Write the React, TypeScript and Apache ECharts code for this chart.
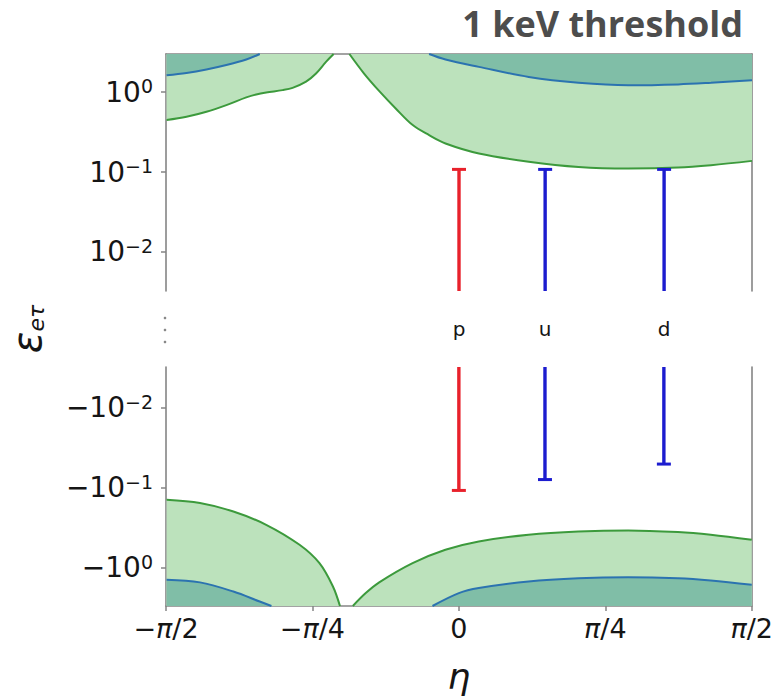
import React, { useEffect, useRef } from 'react';
import * as echarts from 'echarts';

// x values are η/π
const xTickValues = [-0.5, -0.25, 0, 0.25, 0.5];
const xTickLabels = ['{n|−}{i|π}{n|/2}', '{n|−}{i|π}{n|/4}', '{n|0}', '{i|π}{n|/4}', '{i|π}{n|/2}'];

const yTickExponents = [-2, -1, 0];

// Upper panel (ε > 0)
const upGreenLeftEta = [-0.499, -0.465, -0.431, -0.397, -0.363, -0.346, -0.329, -0.301, -0.284, -0.261, -0.244, -0.227, -0.214];
const upGreenLeftVal = [0.447, 0.491, 0.567, 0.688, 0.859, 0.936, 0.99, 1.06, 1.13, 1.35, 1.71, 2.39, 3.0];
const upGreenRightEta = [-0.187, -0.162, -0.136, -0.108, -0.079, -0.051, -0.023, 0.034, 0.119, 0.204, 0.289, 0.374, 0.43, 0.5];
const upGreenRightVal = [3.0, 1.71, 1.03, 0.625, 0.387, 0.29, 0.228, 0.171, 0.135, 0.116, 0.111, 0.114, 0.122, 0.138];
const upBlueLeftEta = [-0.499, -0.465, -0.431, -0.397, -0.363, -0.34];
const upBlueLeftVal = [1.63, 1.74, 1.92, 2.18, 2.56, 3.0];
const upBlueRightEta = [-0.051, -0.023, 0.034, 0.119, 0.204, 0.289, 0.374, 0.43, 0.5];
const upBlueRightVal = [3.0, 2.56, 2.07, 1.55, 1.31, 1.22, 1.25, 1.31, 1.41];

// Lower panel (ε < 0), magnitudes
const loGreenLeftEta = [-0.499, -0.442, -0.385, -0.329, -0.272, -0.238, -0.215, -0.203];
const loGreenLeftVal = [0.141, 0.155, 0.198, 0.29, 0.516, 0.875, 1.71, 3.0];
const loGreenRightEta = [-0.181, -0.159, -0.136, -0.079, -0.023, 0.034, 0.119, 0.204, 0.289, 0.374, 0.43, 0.5];
const loGreenRightVal = [3.0, 2.07, 1.52, 0.875, 0.596, 0.469, 0.387, 0.352, 0.341, 0.358, 0.387, 0.447];
const loBlueLeftEta = [-0.499, -0.442, -0.385, -0.34, -0.32];
const loBlueLeftVal = [1.41, 1.52, 1.98, 2.64, 3.0];
const loBlueRightEta = [-0.045, 0, 0.034, 0.119, 0.204, 0.289, 0.374, 0.43, 0.5];
const loBlueRightVal = [3.0, 2.07, 1.79, 1.48, 1.35, 1.31, 1.35, 1.44, 1.63];

// Error bars
const barNames = ['p', 'u', 'd'];
const barEta = [0, 0.147, 0.35];
const barUpperCap = [0.108, 0.108, 0.108];
const barLowerCap = [0.108, 0.079, 0.0506];
const barColors = ['#e8212b', '#1c1ccf', '#1c1ccf'];

const Y_MIN_UP = 0.00325;
const Y_MAX = 3;
const Y_MIN_LO = 0.0031;

const GREEN_LINE = '#3c9a3c';
const GREEN_FILL = '#bce2bc';
const BLUE_LINE = '#2b73b0';
const DARK_FILL = '#80bea7';
const AXIS_COLOR = '#858585';
const FONT = 'DejaVu Sans';

const zip = (a: number[], b: number[]) => a.map((v, i) => [v, b[i]]);

function App() {
  const ref = useRef<HTMLDivElement>(null);
  useEffect(() => {
    if (!ref.current) return;
    const chart = echarts.init(ref.current, undefined, { renderer: 'svg' });

    const yRich = {
      b: { fontSize: 28, fontFamily: FONT, color: '#151515', lineHeight: 31 },
      s: { fontSize: 19, fontFamily: FONT, color: '#151515', lineHeight: 19, verticalAlign: 'top' },
    };
    const upFmt = (v: number) => {
      const e = Math.round(Math.log10(v));
      if (!yTickExponents.includes(e)) return '';
      return `{b|10}{s|${e < 0 ? '−' + -e : e}}`;
    };
    const loFmt = (v: number) => {
      const e = Math.round(Math.log10(v));
      if (!yTickExponents.includes(e)) return '';
      return `{b|−10}{s|${e < 0 ? '−' + -e : e}}`;
    };
    const tickVals = yTickExponents.map((e) => Math.pow(10, e));

    const lineSeries = (name: string, grid: number, data: number[][], lineColor: string, fill: string, z: number) => ({
      name,
      type: 'line',
      xAxisIndex: grid,
      yAxisIndex: grid * 2,
      data,
      symbol: 'none',
      smooth: 0.35,
      clip: true,
      z,
      lineStyle: { color: lineColor, width: 2 },
      areaStyle: { color: fill, opacity: 1, origin: 'end' },
    });

    const axisLine = { show: true, onZero: false, lineStyle: { color: AXIS_COLOR, width: 1.6 } };

    chart.setOption({
      animation: false,
      backgroundColor: '#ffffff',
      grid: [
        { left: 166, top: 54, width: 586, height: 237 },
        { left: 166, top: 367, width: 586, height: 239 },
      ],
      xAxis: [
        {
          type: 'value', gridIndex: 0, min: -0.5, max: 0.5, interval: 0.25, position: 'top',
          axisLine, axisTick: { show: false }, axisLabel: { show: false }, splitLine: { show: false },
        },
        {
          type: 'value', gridIndex: 1, min: -0.5, max: 0.5, interval: 0.25, position: 'bottom',
          axisLine,
          axisTick: { show: true, length: 5, lineStyle: { color: AXIS_COLOR, width: 1.5 } },
          axisLabel: {
            margin: 9,
            formatter: (v: number) => {
              const i = xTickValues.findIndex((t) => Math.abs(t - v) < 1e-6);
              return i >= 0 ? xTickLabels[i] : '';
            },
            rich: {
              n: { fontSize: 27, fontFamily: FONT, color: '#151515' },
              i: { fontSize: 27, fontFamily: FONT, fontStyle: 'italic', color: '#151515' },
            },
          },
          splitLine: { show: false },
          name: 'η',
          nameLocation: 'middle',
          nameGap: 52,
          nameTextStyle: { fontSize: 36, fontFamily: FONT, fontStyle: 'italic', color: '#151515', verticalAlign: 'top', lineHeight: 36 },
        },
      ],
      yAxis: [
        {
          type: 'log', gridIndex: 0, min: Y_MIN_UP, max: Y_MAX, logBase: 10,
          axisLine,
          axisTick: { show: true, length: 5, customValues: tickVals, lineStyle: { color: AXIS_COLOR, width: 1.5 } },
          axisLabel: { margin: 13, customValues: tickVals, formatter: upFmt, rich: yRich },
          splitLine: { show: false },
        },
        {
          type: 'value', gridIndex: 0, min: 0, max: 1, position: 'right',
          axisLine, axisTick: { show: false }, axisLabel: { show: false }, splitLine: { show: false },
        },
        {
          type: 'log', gridIndex: 1, min: Y_MIN_LO, max: Y_MAX, logBase: 10, inverse: true,
          axisLine,
          axisTick: { show: true, length: 5, customValues: tickVals, lineStyle: { color: AXIS_COLOR, width: 1.5 } },
          axisLabel: { margin: 13, customValues: tickVals, formatter: loFmt, rich: yRich },
          splitLine: { show: false },
        },
        {
          type: 'value', gridIndex: 1, min: 0, max: 1, position: 'right',
          axisLine, axisTick: { show: false }, axisLabel: { show: false }, splitLine: { show: false },
        },
      ],
      series: [
        lineSeries('upGreenL', 0, zip(upGreenLeftEta, upGreenLeftVal), GREEN_LINE, GREEN_FILL, 2),
        lineSeries('upGreenR', 0, zip(upGreenRightEta, upGreenRightVal), GREEN_LINE, GREEN_FILL, 2),
        lineSeries('upBlueL', 0, zip(upBlueLeftEta, upBlueLeftVal), BLUE_LINE, DARK_FILL, 3),
        lineSeries('upBlueR', 0, zip(upBlueRightEta, upBlueRightVal), BLUE_LINE, DARK_FILL, 3),
        lineSeries('loGreenL', 1, zip(loGreenLeftEta, loGreenLeftVal), GREEN_LINE, GREEN_FILL, 2),
        lineSeries('loGreenR', 1, zip(loGreenRightEta, loGreenRightVal), GREEN_LINE, GREEN_FILL, 2),
        lineSeries('loBlueL', 1, zip(loBlueLeftEta, loBlueLeftVal), BLUE_LINE, DARK_FILL, 3),
        lineSeries('loBlueR', 1, zip(loBlueRightEta, loBlueRightVal), BLUE_LINE, DARK_FILL, 3),
        {
          name: 'barsUp',
          type: 'custom',
          xAxisIndex: 0,
          yAxisIndex: 0,
          z: 5,
          clip: false,
          data: zip(barEta, barUpperCap),
          renderItem: (params: any, api: any) => {
            const cs = params.coordSys;
            const pt = api.coord([api.value(0), api.value(1)]);
            const bottom = cs.y + cs.height;
            const color = barColors[params.dataIndex];
            return {
              type: 'group',
              children: [
                { type: 'line', shape: { x1: pt[0], y1: pt[1], x2: pt[0], y2: bottom }, style: { stroke: color, lineWidth: 3.4 } },
                { type: 'line', shape: { x1: pt[0] - 7, y1: pt[1], x2: pt[0] + 7, y2: pt[1] }, style: { stroke: color, lineWidth: 3 } },
                {
                  type: 'text', x: pt[0], y: bottom + 38,
                  style: { text: barNames[params.dataIndex], fontSize: 20, fontFamily: FONT, fill: '#151515', align: 'center', verticalAlign: 'middle' },
                },
              ],
            };
          },
        },
        {
          name: 'barsLo',
          type: 'custom',
          xAxisIndex: 1,
          yAxisIndex: 2,
          z: 5,
          clip: false,
          data: zip(barEta, barLowerCap),
          renderItem: (params: any, api: any) => {
            const cs = params.coordSys;
            const pt = api.coord([api.value(0), api.value(1)]);
            const top = cs.y;
            const color = barColors[params.dataIndex];
            return {
              type: 'group',
              children: [
                { type: 'line', shape: { x1: pt[0], y1: top, x2: pt[0], y2: pt[1] }, style: { stroke: color, lineWidth: 3.4 } },
                { type: 'line', shape: { x1: pt[0] - 7, y1: pt[1], x2: pt[0] + 7, y2: pt[1] }, style: { stroke: color, lineWidth: 3 } },
              ],
            };
          },
        },
      ],
      graphic: [
        {
          type: 'text', right: 33, top: 5,
          style: { text: '1 keV threshold', fontSize: 36, fontWeight: 'bold', fontFamily: 'Open Sans', fill: '#4d4d4d', letterSpacing: 0.6 },
        },
        {
          type: 'text', x: 27, y: 329, rotation: Math.PI / 2,
          style: {
            text: '{a|ε}{b|eτ}',
            align: 'center', verticalAlign: 'middle',
            rich: {
              a: { fontSize: 40, fontFamily: FONT, fontStyle: 'italic', fill: '#151515', color: '#151515' },
              b: { fontSize: 22, fontFamily: FONT, fontStyle: 'italic', fill: '#151515', color: '#151515', verticalAlign: 'bottom' },
            },
          },
        },
        { type: 'circle', shape: { cx: 165, cy: 318, r: 1.3 }, style: { fill: '#888' } },
        { type: 'circle', shape: { cx: 165, cy: 330, r: 1.3 }, style: { fill: '#888' } },
        { type: 'circle', shape: { cx: 165, cy: 342, r: 1.3 }, style: { fill: '#888' } },
      ],
    });
    return () => chart.dispose();
  }, []);
  return <div ref={ref} style={{ position: 'fixed', left: 0, top: 0, width: 776, height: 696 }} />;
}

export default App;
